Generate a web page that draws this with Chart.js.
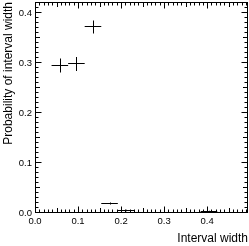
<!DOCTYPE html>
<html>
<head>
<meta charset="utf-8">
<script src="https://cdn.jsdelivr.net/npm/chart.js@4.4.1/dist/chart.umd.min.js"></script>
<style>
  html, body { margin: 0; padding: 0; background: #fff; }
  #wrap { width: 249px; height: 246px; }
</style>
</head>
<body>
<div id="wrap"><canvas id="c" width="249" height="246"></canvas></div>
<script>
// ---- data ----
const binLow     = [0.0,    0.0385, 0.077, 0.1155, 0.154, 0.1925, 0.231, 0.2695, 0.308,  0.3465, 0.385,  0.4235, 0.462];
const binHigh    = [0.0385, 0.077,  0.1155,0.154,  0.1925,0.231,  0.2695,0.308,  0.3465, 0.385,  0.4235, 0.462,  0.5005];
const binCenter  = [0.0193, 0.0578, 0.0963,0.1348, 0.1733,0.2118, 0.2503,0.2888, 0.3273, 0.3658, 0.4043, 0.4428, 0.4813];
const probValues = [0.0005, 0.295,  0.298, 0.372,  0.019, 0.005,  null,  0.001,  0.001,  null,   0.003,  null,   0.0005];
const probErrors = [0.0005, 0.014,  0.014, 0.013,  0.002, 0.0015, null,  0.0008, 0.0008, null,   0.0015, null,   0.0005];
const xTickLabels = ['0.0', '0.1', '0.2', '0.3', '0.4'];
const yTickLabels = ['0.0', '0.1', '0.2', '0.3', '0.4'];
const xTitle = 'Interval width';
const yTitle = 'Probability of interval width';

const FONT = 'Liberation Sans, Arial, Helvetica, sans-serif';

const points = binCenter.map((x, i) => ({ x: x, y: probValues[i] }));

// draws ROOT-style crosses and inside tick marks using the chart's scales
const rootStyle = {
  id: 'rootStyle',
  afterDatasetsDraw(chart) {
    const ctx = chart.ctx;
    const xs = chart.scales.x, ys = chart.scales.y;
    const a = chart.chartArea;
    ctx.save();
    ctx.beginPath();
    ctx.rect(a.left, a.top - 1, a.right - a.left, a.bottom - a.top + 2);
    ctx.clip();
    ctx.strokeStyle = '#000';
    ctx.lineWidth = 1;
    const ds = chart.data.datasets[0];
    ds.data.forEach((p, i) => {
      if (p.y === null || p.y === undefined) return;
      const yc = Math.round(ys.getPixelForValue(p.y)) - 0.5;
      const x0 = xs.getPixelForValue(ds.xLow[i]);
      const x1 = xs.getPixelForValue(ds.xHigh[i]);
      const xc = Math.round(xs.getPixelForValue(p.x)) + 0.5;
      ctx.beginPath();
      ctx.moveTo(x0, yc); ctx.lineTo(x1, yc);
      const e = ds.yErr[i] || 0;
      if (e > 0) {
        const yt = ys.getPixelForValue(p.y + e);
        const yb = ys.getPixelForValue(p.y - e);
        ctx.moveTo(xc, yt); ctx.lineTo(xc, yb);
      }
      ctx.stroke();
    });
    ctx.restore();
  },
  afterDraw(chart) {
    const ctx = chart.ctx;
    const xs = chart.scales.x, ys = chart.scales.y;
    const a = chart.chartArea;
    ctx.save();
    ctx.strokeStyle = '#000';
    ctx.lineWidth = 1;
    const L = Math.round(a.left) + 0.5, R = Math.round(a.right) - 0.5;
    const T = Math.round(a.top) + 0.5, B = Math.round(a.bottom) - 0.5;
    ctx.strokeRect(L, T, R - L, B - T);
    ctx.beginPath();
    // x ticks (bottom and top)
    for (let k = 0; k <= 49; k++) {
      const v = k / 100;
      if (v > xs.max) break;
      const len = (k % 10 === 0) ? 6 : (k % 5 === 0 ? 4.5 : 3);
      const px = Math.round(xs.getPixelForValue(v)) + 0.5;
      ctx.moveTo(px, B); ctx.lineTo(px, B - len);
      ctx.moveTo(px, T); ctx.lineTo(px, T + len);
    }
    // y ticks (left and right)
    for (let k = 0; k <= 42; k++) {
      const v = k / 100;
      if (v > ys.max) break;
      const len = (k % 10 === 0) ? 6 : (k % 5 === 0 ? 4.5 : 3);
      const py = Math.round(ys.getPixelForValue(v)) - 0.5;
      ctx.moveTo(L, py); ctx.lineTo(L + len, py);
      ctx.moveTo(R, py); ctx.lineTo(R - len, py);
    }
    ctx.stroke();
    ctx.restore();
  }
};

new Chart(document.getElementById('c'), {
  type: 'scatter',
  data: {
    datasets: [{
      data: points,
      xLow: binLow,
      xHigh: binHigh,
      yErr: probErrors,
      pointRadius: 0,
      pointHoverRadius: 0,
      showLine: false
    }]
  },
  options: {
    responsive: false,
    animation: false,
    devicePixelRatio: 1,
    layout: { padding: { top: 2, right: 1, left: 0, bottom: 0 } },
    plugins: { legend: { display: false }, tooltip: { enabled: false } },
    scales: {
      x: {
        type: 'linear',
        min: 0, max: 0.495,
        grid: { display: false, drawTicks: false },
        border: { display: false },
        ticks: {
          stepSize: 0.1, includeBounds: false, padding: 3,
          color: '#000', font: { family: FONT, size: 9.5 },
          maxRotation: 0, autoSkip: false,
          callback: (v) => { const i = Math.round(v * 10); return xTickLabels[i] !== undefined ? xTickLabels[i] : ''; }
        },
        title: {
          display: true, text: xTitle, align: 'end', color: '#000',
          font: { family: FONT, size: 12 }, padding: { top: 0, bottom: 0 }
        },
        afterFit: (s) => { s.height = 33; s.paddingLeft = 0; s.paddingRight = 0; }
      },
      y: {
        type: 'linear',
        min: 0, max: 0.422,
        grid: { display: false, drawTicks: false },
        border: { display: false },
        ticks: {
          stepSize: 0.1, includeBounds: false, padding: 3,
          color: '#000', font: { family: FONT, size: 9.5 },
          autoSkip: false,
          callback: (v) => { const i = Math.round(v * 10); return yTickLabels[i] !== undefined ? yTickLabels[i] : ''; }
        },
        title: {
          display: true, text: yTitle, align: 'end', color: '#000',
          font: { family: FONT, size: 12 }, padding: { top: 1, bottom: 0 }
        },
        afterFit: (s) => { s.width = 35; s.paddingTop = 0; s.paddingBottom = 0; }
      }
    }
  },
  plugins: [rootStyle]
});
</script>
</body>
</html>
